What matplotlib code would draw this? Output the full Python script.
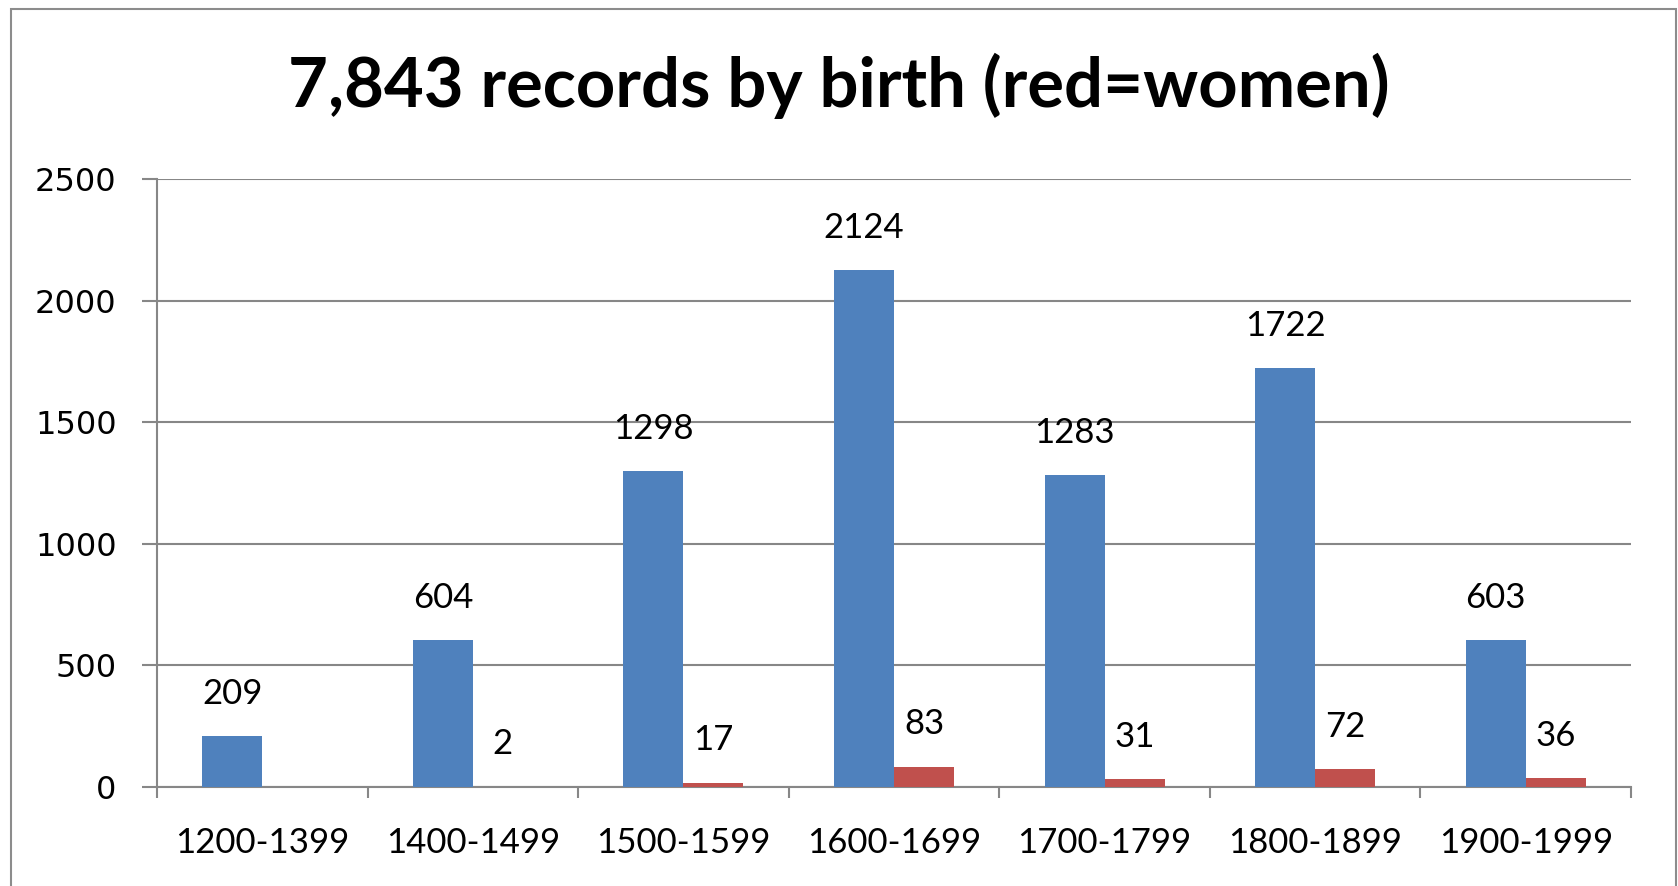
import numpy as np
import matplotlib
matplotlib.use('Agg')
import matplotlib.pyplot as plt
from matplotlib.patches import Rectangle

periods = ['1200-1399', '1400-1499', '1500-1599', '1600-1699',
           '1700-1799', '1800-1899', '1900-1999']
men = [209, 604, 1298, 2124, 1283, 1722, 603]
women = [0, 2, 17, 83, 31, 72, 36]
women_labels = ['', '2', '17', '83', '31', '72', '36']

blue = '#4F81BD'
red = '#C0504D'
grey = '#878787'
narrow = ['Lato', 'DejaVu Sans']

fig = plt.figure(figsize=(16.78, 8.86), dpi=100)
ax = fig.add_axes([157/1678, 1-787/886, (1631-157)/1678, (787-179)/886])

x = np.arange(len(periods)) + 0.5
w = 0.285
b1 = ax.bar(x - w/2, men, w, color=blue, zorder=3)
b2 = ax.bar(x + w/2, women, w, color=red, zorder=3)

# 数值标签
for rect, v in zip(b1, men):
    ax.annotate(str(v), (rect.get_x() + rect.get_width()/2, v),
                xytext=(0, 19), textcoords='offset points',
                ha='center', va='bottom', fontsize=25, family=narrow)
for rect, v, s in zip(b2, women, women_labels):
    ax.annotate(s, (rect.get_x() + rect.get_width()/2, v),
                xytext=(0, 19), textcoords='offset points',
                ha='center', va='bottom', fontsize=25, family=narrow)

ax.set_xlim(0, len(periods))
ax.set_ylim(0, 2500)
ax.set_yticks(np.arange(0, 2501, 500))
ax.yaxis.grid(True, color=grey, lw=1.5, zorder=0)
ax.set_axisbelow(True)

ax.set_xticks(np.arange(len(periods) + 1))
ax.set_xticklabels([])
ax.set_xticks(x, minor=True)
ax.set_xticklabels(periods, minor=True, fontsize=25, family=narrow)
ax.tick_params(axis='x', which='minor', length=0, pad=29)
ax.tick_params(axis='x', which='major', length=8, width=1.5, color=grey, direction='out')
ax.tick_params(axis='y', length=11, width=1.5, color=grey, pad=18, labelsize=23)
for t in ax.get_yticklabels():
    t.set_family('DejaVu Sans')

for s in ['top', 'right']:
    ax.spines[s].set_visible(False)
for s in ['left', 'bottom']:
    ax.spines[s].set_color(grey)
    ax.spines[s].set_linewidth(1.5)

fig.text(0.5, 1-86/886, '7,843 records by birth (red=women)', ha='center', va='center',
         fontsize=49.5, fontweight='bold', family=narrow)

# 外框
fig.patches.append(Rectangle((11/1678, -0.05), (1676-11)/1678, 1.05-9/886,
                             transform=fig.transFigure, fill=False,
                             edgecolor='#8c8c8c', lw=1.5))

fig.savefig('out.png', dpi=100)
